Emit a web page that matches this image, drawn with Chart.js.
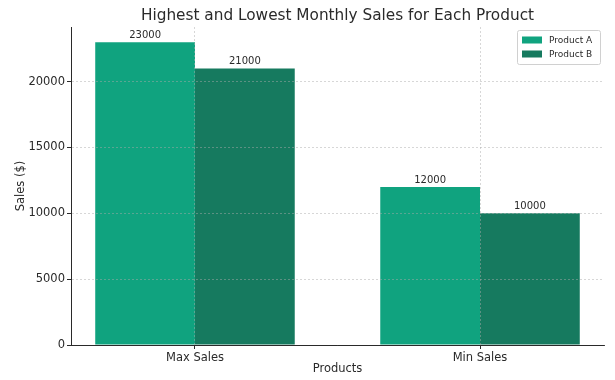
<!DOCTYPE html>
<html>
<head>
<meta charset="utf-8">
<script src="https://cdn.jsdelivr.net/npm/chart.js@4"></script>
<style>
  html, body { margin: 0; padding: 0; background: #fff; }
  #wrap { width: 615px; height: 380px; }
</style>
</head>
<body>
<div id="wrap"><canvas id="c" width="615" height="380"></canvas></div>
<script>
const chartTitle = 'Highest and Lowest Monthly Sales for Each Product';
const categories = ['Max Sales', 'Min Sales'];
const seriesNames = ['Product A', 'Product B'];
const productA = [23000, 12000];
const productB = [21000, 10000];
const yTicks = [0, 5000, 10000, 15000, 20000];
const colors = ['#10a37f', '#167a5f'];

const FONT = "'DejaVu Sans', sans-serif";
const TXT = '#2a2a2a';

const titlePlugin = {
  id: 'mplTitle',
  afterDraw(chart) {
    const ctx = chart.ctx, a = chart.chartArea;
    ctx.save();
    ctx.font = '15.3px ' + FONT;
    ctx.fillStyle = TXT;
    ctx.textAlign = 'center';
    ctx.textBaseline = 'middle';
    ctx.fillText(chartTitle, (a.left + a.right) / 2, 16);
    ctx.restore();
  }
};

const valueLabels = {
  id: 'valueLabels',
  afterDatasetsDraw(chart) {
    const ctx = chart.ctx;
    ctx.save();
    ctx.font = '10px ' + FONT;
    ctx.fillStyle = TXT;
    ctx.textAlign = 'center';
    ctx.textBaseline = 'bottom';
    chart.data.datasets.forEach((ds, di) => {
      const meta = chart.getDatasetMeta(di);
      meta.data.forEach((el, i) => {
        ctx.fillText(String(ds.data[i].y), el.x, el.y - 2);
      });
    });
    ctx.restore();
  }
};

const boxLegend = {
  id: 'boxLegend',
  afterDraw(chart) {
    const ctx = chart.ctx, a = chart.chartArea;
    const w = 83, h = 34;
    const x = a.right - 4 - w, y = a.top + 3;
    ctx.save();
    ctx.fillStyle = 'rgba(255,255,255,0.85)';
    ctx.strokeStyle = '#d0d0d0';
    ctx.lineWidth = 1;
    ctx.beginPath();
    ctx.roundRect(x + 0.5, y + 0.5, w, h, 2);
    ctx.fill();
    ctx.stroke();
    ctx.font = '9px ' + FONT;
    ctx.textBaseline = 'middle';
    ctx.textAlign = 'left';
    chart.data.datasets.forEach((ds, i) => {
      const cy = y + 10 + i * 14;
      ctx.fillStyle = ds.backgroundColor;
      ctx.fillRect(x + 5, cy - 3.5, 20, 7);
      ctx.fillStyle = TXT;
      ctx.fillText(ds.label, x + 32, cy + 0.5);
    });
    ctx.restore();
  }
};

const datasets = [productA, productB].map((vals, k) => ({
  label: seriesNames[k],
  data: categories.map((c, i) => ({ x: i, y: vals[i] })),
  backgroundColor: colors[k],
  borderWidth: 0,
  categoryPercentage: 0.7,
  barPercentage: 1.0
}));

const gridOpts = {
  z: 1,
  offset: false,
  color: 'rgba(170,170,170,0.6)',
  lineWidth: 0.8,
  tickColor: TXT,
  tickLength: 4,
  tickWidth: 1,
  tickBorderDash: []
};

new Chart(document.getElementById('c'), {
  type: 'bar',
  data: { datasets },
  options: {
    responsive: false,
    animation: false,
    layout: { padding: { top: 27, left: 0, right: 11, bottom: 0 } },
    plugins: {
      legend: { display: false },
      title: { display: false },
      tooltip: { enabled: false }
    },
    scales: {
      x: {
        type: 'linear',
        offset: false,
        min: -0.435,
        max: 1.435,
        afterBuildTicks: s => { s.ticks = categories.map((c, i) => ({ value: i })); },
        afterFit: s => { s.height = 35; },
        ticks: {
          font: { family: FONT, size: 11.5 },
          color: TXT,
          padding: 2,
          maxRotation: 0,
          callback: v => categories[v]
        },
        grid: gridOpts,
        border: { display: true, color: TXT, width: 1, dash: [2, 2], z: 2 },
        title: {
          display: true,
          text: 'Products',
          font: { family: FONT, size: 11.5 },
          color: TXT,
          padding: { top: 0, bottom: 4 }
        }
      },
      y: {
        type: 'linear',
        offset: false,
        min: 0,
        max: 24150,
        afterBuildTicks: s => { s.ticks = yTicks.map(v => ({ value: v })); },
        afterFit: s => { s.width = 71; },
        ticks: {
          font: { family: FONT, size: 11.5 },
          color: TXT,
          padding: 2,
          callback: v => String(v)
        },
        grid: gridOpts,
        border: { display: true, color: TXT, width: 1, dash: [2, 2], z: 2 },
        title: {
          display: true,
          text: 'Sales ($)',
          font: { family: FONT, size: 11.5 },
          color: TXT,
          padding: { top: 14, bottom: 0 }
        }
      }
    }
  },
  plugins: [titlePlugin, valueLabels, boxLegend]
});
</script>
</body>
</html>
